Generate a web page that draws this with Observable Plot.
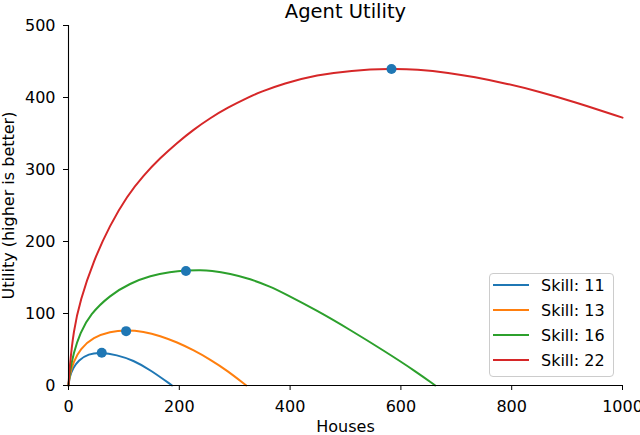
<!DOCTYPE html>
<html>
<head>
<meta charset="utf-8">
<script src="https://cdn.jsdelivr.net/npm/d3@7"></script>
<script src="https://cdn.jsdelivr.net/npm/@observablehq/plot@0.6"></script>
<style>
  html, body { margin: 0; padding: 0; background: #fff; }
  #wrap { position: relative; width: 640px; height: 435px; overflow: hidden; font-family: "DejaVu Sans", sans-serif; }
  #legend { position: absolute; left: 489px; top: 273px; width: 123px; height: 102px;
    border: 1px solid #cccccc; border-radius: 4px; background: rgba(255,255,255,0.8); box-sizing: content-box; }
  .item { position: absolute; left: 3px; height: 20px; display: flex; align-items: center; font-size: 16px; color: #000; white-space: nowrap; }
  .sw { width: 36px; height: 0; border-top: 2px solid; margin-right: 12px; }
</style>
</head>
<body>
<div id="wrap"></div>
<script>
const title = "Agent Utility";
const xLabel = "Houses";
const yLabel = "Utility (higher is better)";
const skills = [11, 13, 16, 22];
const colors = ["#1f77b4", "#ff7f0e", "#2ca02c", "#d62728"];
const xTicks = [0, 200, 400, 600, 800, 1000];
const yTicks = [0, 100, 200, 300, 400, 500];

const housesS11 = [0, 2, 8, 18, 36, 58.5, 87, 117, 148, 187];
const utilityS11 = [0, 12, 24, 35, 44, 46, 42.5, 35, 21.5, 0];

const housesS13 = [0, 2, 9, 21, 45, 75, 104, 135.5, 165.6, 196, 226, 256, 286, 321];
const utilityS13 = [0, 14, 33, 51, 67, 75, 77, 75, 69, 60, 49, 36, 21, 0];

const housesS16 = [0, 2, 9, 21, 39, 75, 111, 148, 184, 212, 240, 256, 292, 328, 364, 388, 449, 509, 569, 629, 662];
const utilityS16 = [0, 17, 45, 73, 99, 125.5, 142, 152.5, 158, 160, 160.3, 159.8, 155.3, 148, 137.5, 128.5, 104, 77, 48.5, 18.5, 0];

const housesS22 = [0, 2, 9, 21, 45, 75, 105.5, 135.5, 165.6, 195.8, 225.8, 256, 286, 328, 346, 388, 449, 509, 583, 628, 688, 731, 792, 852, 912, 1000];
const utilityS22 = [0, 25, 76, 118, 173, 223, 263, 292, 316, 337, 355.5, 371.5, 385.5, 401.5, 407.5, 419.5, 431.5, 437.5, 440, 439, 434.3, 428.8, 419.2, 407.7, 394.2, 372];

const peakHouses = [60, 104, 212, 583];
const peakUtility = [45.5, 75.5, 159, 439.5];

const seriesX = [housesS11, housesS13, housesS16, housesS22];
const seriesY = [utilityS11, utilityS13, utilityS16, utilityS22];

const rows = [];
skills.forEach((s, i) => {
  seriesX[i].forEach((h, j) => rows.push({skill: s, houses: h, utility: seriesY[i][j]}));
});
const peaks = peakHouses.map((h, i) => ({houses: h, utility: peakUtility[i]}));

const font = "DejaVu Sans";
const chart = Plot.plot({
  width: 640,
  height: 435,
  marginLeft: 68,
  marginRight: 18,
  marginTop: 25,
  marginBottom: 50,
  style: {fontFamily: font, fontSize: "16px", color: "#000", background: "#fff", overflow: "visible"},
  x: {domain: [0, 1000]},
  y: {domain: [0, 500]},
  color: {type: "ordinal", domain: skills, range: colors},
  marks: [
    Plot.line(rows, {x: "houses", y: "utility", z: "skill", stroke: "skill", strokeWidth: 2, curve: "basis"}),
    Plot.dot(peaks, {x: "houses", y: "utility", r: 5, fill: "#1f77b4", stroke: "none"}),
    Plot.ruleX([0], {stroke: "#000", strokeWidth: 1.1}),
    Plot.ruleY([0], {stroke: "#000", strokeWidth: 1.1}),
    Plot.axisX({ticks: xTicks, tickFormat: d => String(d), tickSize: 5, tickPadding: 10, fontSize: 16, label: null, stroke: "#000"}),
    Plot.axisY({ticks: yTicks, tickFormat: d => String(d), tickSize: 5, tickPadding: 8, fontSize: 16, label: null, stroke: "#000"}),
    Plot.text([xLabel], {frameAnchor: "bottom", dy: 46, lineAnchor: "bottom", textAnchor: "middle", fontSize: 16, fill: "#000"}),
    Plot.text([yLabel], {frameAnchor: "left", dx: -60, rotate: -90, textAnchor: "middle", lineAnchor: "middle", fontSize: 16, fill: "#000"}),
    Plot.text([title], {frameAnchor: "top", dy: -21, lineAnchor: "top", textAnchor: "middle", fontSize: 19.5, fill: "#000"})
  ]
});
const wrap = document.getElementById("wrap");
wrap.appendChild(chart);

const legend = document.createElement("div");
legend.id = "legend";
skills.forEach((s, i) => {
  const it = document.createElement("div");
  it.className = "item";
  it.style.top = (1 + i * 25) + "px";
  const sw = document.createElement("span");
  sw.className = "sw";
  sw.style.borderColor = colors[i];
  const tx = document.createElement("span");
  tx.textContent = "Skill: " + s;
  it.appendChild(sw);
  it.appendChild(tx);
  legend.appendChild(it);
});
wrap.appendChild(legend);
</script>
</body>
</html>
